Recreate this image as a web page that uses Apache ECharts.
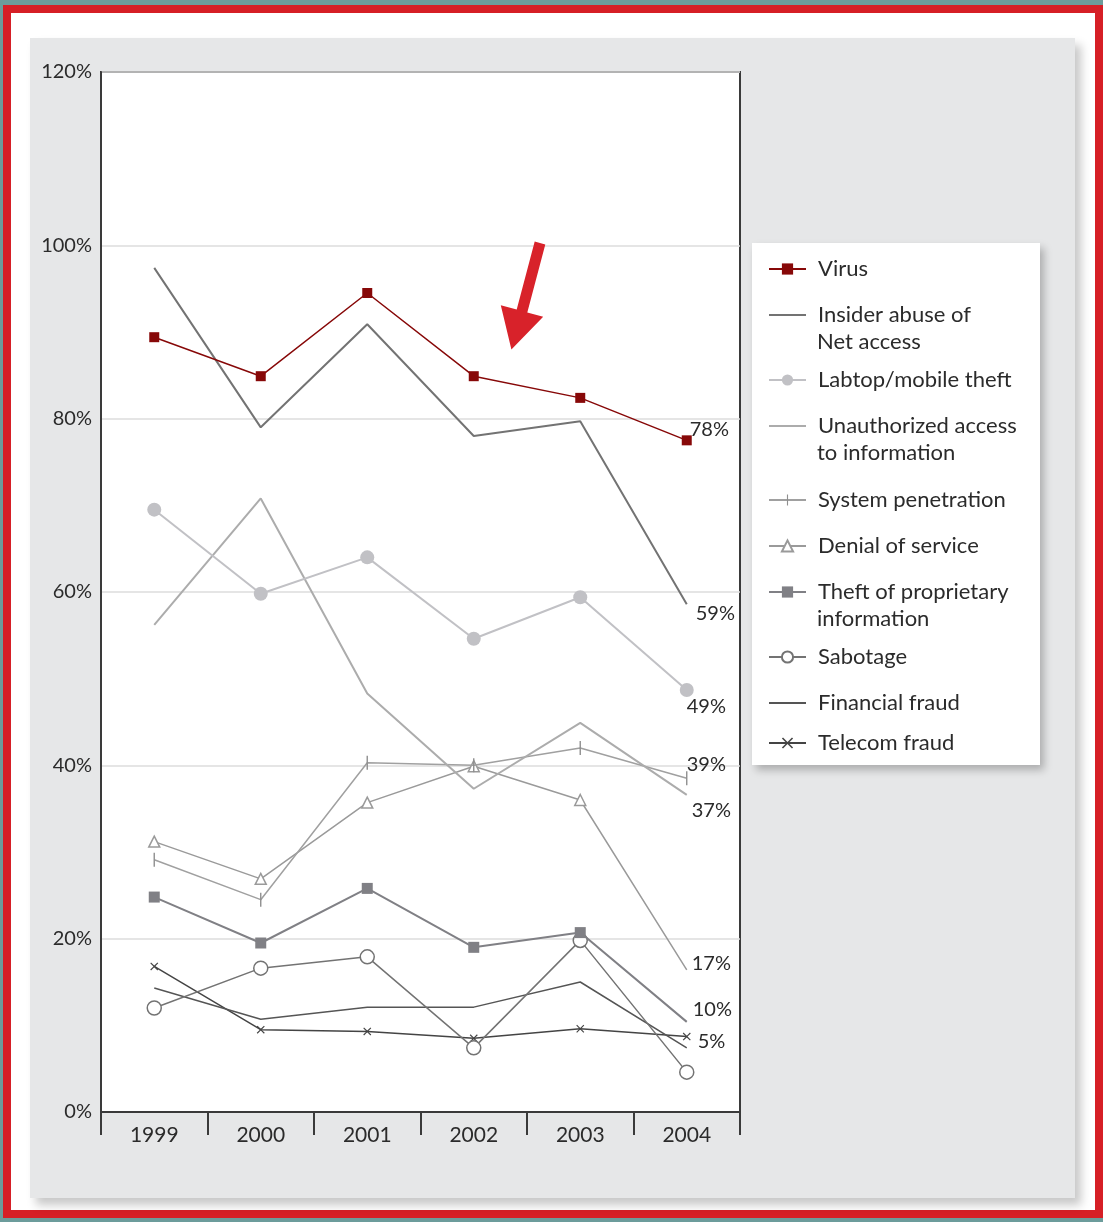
<!DOCTYPE html>
<html>
<head>
<meta charset="utf-8">
<script src="https://cdn.jsdelivr.net/npm/echarts@6/dist/echarts.min.js"></script>
<style>
    html, body { margin: 0; padding: 0; width: 1103px; height: 1222px; overflow: hidden; background: #6c9c9b; }
    .frame { position: absolute; left: 3px; top: 5px; width: 1100px; height: 1213px; box-sizing: border-box; border: 8px solid #d61f26; background: #fff; }
    .panel { position: absolute; left: 30px; top: 38px; width: 1045px; height: 1160px; background: #e6e7e8; box-shadow: 6px 7px 9px rgba(0,0,0,.22); }
    #chart { position: absolute; left: 0; top: 0; width: 1103px; height: 1222px; }
</style>
</head>
<body>
<div class="frame"></div>
<div class="panel"></div>
<div id="chart"></div>
<script>
//数据
var years = ["1999", "2000", "2001", "2002", "2003", "2004"];
var yTicks = [0, 20, 40, 60, 80, 100, 120];

var virus = [89.4, 84.9, 94.5, 84.9, 82.4, 77.5];
var insiderAbuse = [97.4, 79.0, 90.9, 78.0, 79.7, 58.6];
var laptopTheft = [69.5, 59.8, 64.0, 54.6, 59.4, 48.7];
var unauthorizedAccess = [56.2, 70.8, 48.3, 37.3, 44.9, 36.6];
var systemPenetration = [29.1, 24.5, 40.3, 40.0, 42.0, 38.5];
var denialOfService = [31.2, 26.9, 35.7, 39.9, 36.0, 16.4];
var theftOfInfo = [24.8, 19.5, 25.8, 19.0, 20.7, 10.4];
var sabotage = [12.0, 16.6, 17.9, 7.4, 19.8, 4.6];
var financialFraud = [14.3, 10.7, 12.1, 12.1, 15.0, 7.4];
var telecomFraud = [16.8, 9.5, 9.3, 8.5, 9.6, 8.7];

//图例文字（第一行 / 第二行）
var legendFirst = ["Virus", "Insider abuse of", "Labtop/mobile theft", "Unauthorized access", "System penetration",
    "Denial of service", "Theft of proprietary", "Sabotage", "Financial fraud", "Telecom fraud"];
var legendSecond = ["", "Net access", "", "to information", "", "", "information", "", "", ""];
//末端标注
var endLabels = ["78%", "59%", "49%", "37%", "39%", "17%", "10%", "", "", "5%"];

(function() {
    var myChart = echarts.init(document.getElementById("chart"));

    //竖线标记：两个极小的子路径把包围盒撑成正方形
    var tickPath = 'path://M0,0h0.01v0.01h-0.01zM14,14h0.01v0.01h-0.01zM6.3,0h1.4v14h-1.4z';
    var crossPath = 'path://M0,1L1,0L5,4L9,0L10,1L6,5L10,9L9,10L5,6L1,10L0,9L4,5Z';

    //每条线的样式（endMark:false 表示2004年不画标记）
    var styles = [
        { data: virus, color: "#870808", width: 1.5, symbol: "rect", size: 10, fill: "#870808", off: [3, -11] },
        { data: insiderAbuse, color: "#737373", width: 2, symbol: "none", size: 0, off: [9, 9] },
        { data: laptopTheft, color: "#c1c1c5", width: 2, symbol: "circle", size: 14, fill: "#c1c1c5", off: [0, 17] },
        { data: unauthorizedAccess, color: "#acacac", width: 2, symbol: "none", size: 0, off: [5, 16] },
        { data: systemPenetration, color: "#a0a0a0", width: 1.5, symbol: tickPath, size: 14, fill: "#8f8f8f", off: [0, -14] },
        { data: denialOfService, color: "#9a9a9a", width: 1.5, symbol: "triangle", size: 11, fill: "#fff", off: [5, -6], endMark: false },
        { data: theftOfInfo, color: "#808085", width: 2, symbol: "rect", size: 11, fill: "#808085", off: [6, -12], endMark: false },
        { data: sabotage, color: "#737373", width: 1.5, symbol: "circle", size: 14, fill: "#fff", off: [0, 0] },
        { data: financialFraud, color: "#555", width: 1.5, symbol: "none", size: 0, off: [0, 0] },
        { data: telecomFraud, color: "#444", width: 1.5, symbol: crossPath, size: 8, fill: "#444", off: [11, 5] }
    ];

    var names = legendFirst.map(function(t, i) {
        return legendSecond[i] ? t + " " + legendSecond[i] : t;
    });

    var series = styles.map(function(s, i) {
        var last = s.data.length - 1;
        return {
            name: names[i],
            type: 'line',
            data: s.data.map(function(v, j) {
                return (s.endMark === false && j === last) ? { value: v, symbol: 'none' } : v;
            }),
            symbol: s.symbol,
            symbolSize: s.size,
            showSymbol: s.symbol !== "none",
            lineStyle: { color: s.color, width: s.width },
            itemStyle: {
                color: s.fill || s.color,
                borderColor: s.color,
                borderWidth: s.fill === "#fff" ? 1.5 : 0
            },
            endLabel: {
                show: endLabels[i] !== "",
                formatter: endLabels[i],
                distance: 0,
                offset: s.off,
                color: "#2b2b2b",
                fontSize: 20,
                fontFamily: "Lato"
            },
            z: 10 - i
        };
    });

    //图例位置（文字中心 y）
    var legendY = [269, 315, 380, 426, 500, 546, 592, 657, 703, 743];
    var legends = names.map(function(n, i) {
        var item = { name: n };
        if (styles[i].symbol === "none") {
            item.itemStyle = { opacity: 0 };
        }
        return {
            data: [item],
            left: 768,
            top: legendY[i] - 13.5,
            orient: 'vertical',
            itemWidth: 37,
            itemHeight: 14,
            itemGap: 0,
            padding: 0,
            selectedMode: false,
            formatter: function() { return legendFirst[i]; },
            textStyle: { fontSize: 22, color: "#2b2b2b", fontFamily: "Lato", lineHeight: 27, padding: [0, 0, 0, 7] }
        };
    });

    var graphics = [{
        type: 'rect',
        shape: { x: 752, y: 243, width: 288, height: 522 },
        style: { fill: "#fff", shadowBlur: 8, shadowOffsetX: 4, shadowOffsetY: 5, shadowColor: "rgba(0,0,0,.25)" },
        z: 0
    }];
    legendSecond.forEach(function(t, i) {
        if (!t) return;
        graphics.push({
            type: 'text',
            x: 817,
            y: legendY[i] + 27,
            style: { text: t, fontSize: 22, fontFamily: "Lato", fill: "#2b2b2b", verticalAlign: 'middle' },
            z: 5
        });
    });
    //红色箭头
    graphics.push({
        type: 'polygon',
        shape: {
            points: [[534.7, 241.5], [545.3, 244.5], [527.3, 312.5], [543.2, 316.8],
                [511.4, 349.6], [500.8, 305.2], [516.7, 309.5]]
        },
        style: { fill: "#d8222a" },
        z: 100
    });

    var option = {
        animation: false,
        textStyle: { fontFamily: "Lato" },
        grid: {
            left: 101,
            top: 72,
            width: 639,
            height: 1040,
            show: true,
            backgroundColor: "#fff",
            borderColor: "#3a3a3a",
            borderWidth: 2
        },
        xAxis: {
            type: 'category',
            data: years,
            boundaryGap: true,
            axisLine: { lineStyle: { color: "#3a3a3a", width: 2 } },
            axisTick: { show: true, length: 23, interval: 0, lineStyle: { color: "#3a3a3a", width: 2 } },
            axisLabel: { fontSize: 21, color: "#2b2b2b", margin: 13 }
        },
        yAxis: {
            type: 'value',
            min: yTicks[0],
            max: yTicks[yTicks.length - 1],
            interval: 20,
            axisLine: { show: true, lineStyle: { color: "#3a3a3a", width: 2 } },
            axisTick: { show: false },
            axisLabel: { formatter: '{value}%', fontSize: 20, color: "#2b2b2b", margin: 9 },
            splitLine: { lineStyle: { color: "#dcdcdc", width: 1.5 } }
        },
        legend: legends,
        graphic: graphics,
        series: series
    };

    myChart.setOption(option);
})();
</script>
</body>
</html>
